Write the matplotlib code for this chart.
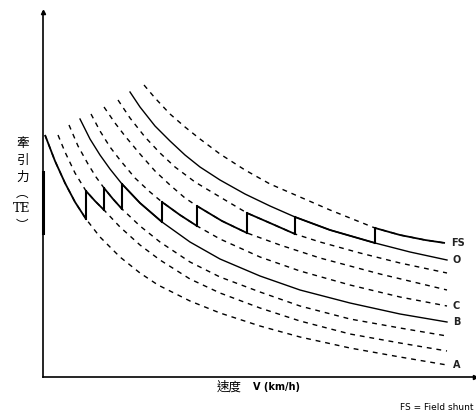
import matplotlib
matplotlib.use("Agg")
import matplotlib.pyplot as plt
import numpy as np

# traction effort curves (speed, tractive effort; arbitrary units)
curve_a_v = [2, 12, 22, 32, 43, 57, 77, 97, 115, 147, 177, 217, 257, 307, 357, 404]
curve_a_te = [242, 216, 194, 175, 158, 140, 120, 104, 92, 76, 64, 51, 40, 29, 20, 12]

curve_2_v = [15, 22, 32, 43, 52, 61, 77, 97, 117, 147, 177, 217, 257, 307, 357, 404]
curve_2_te = [242, 225, 204, 186, 176, 167, 150, 132, 117, 98, 84, 69, 56, 43, 34, 26]

curve_3_v = [26, 35, 45, 53, 61, 70, 79, 97, 117, 147, 177, 217, 257, 307, 357, 404]
curve_3_te = [252, 231, 213, 200, 189, 178, 168, 151, 135, 115, 100, 85, 71, 58, 49, 41]

curve_b_v = [37, 47, 57, 67, 79, 97, 119, 147, 177, 217, 257, 307, 357, 404]
curve_b_te = [258, 238, 222, 208, 193, 174, 155, 135, 118, 101, 87, 74, 63, 55]

curve_c_v = [48, 57, 67, 77, 92, 107, 119, 137, 154, 177, 217, 257, 307, 357, 404]
curve_c_te = [263, 246, 230, 217, 199, 185, 175, 162, 151, 138, 120, 106, 92, 80, 71]

curve_6_v = [61, 72, 82, 97, 112, 127, 142, 154, 179, 204, 237, 277, 337, 404]
curve_6_te = [270, 254, 241, 223, 206, 192, 179, 171, 156, 144, 132, 119, 103, 87]

curve_7_v = [75, 87, 102, 117, 132, 152, 177, 204, 227, 252, 277, 317, 357, 404]
curve_7_te = [277, 259, 240, 224, 210, 195, 180, 164, 154, 143, 135, 124, 114, 104]

curve_o_v = [87, 97, 112, 127, 142, 157, 177, 202, 227, 252, 287, 332, 367, 404]
curve_o_te = [285, 270, 251, 236, 222, 210, 197, 183, 171, 160, 147, 134, 125, 117]

curve_fs_v = [101, 112, 127, 142, 157, 177, 202, 227, 257, 287, 312, 332, 357, 382, 402]
curve_fs_te = [292, 279, 263, 250, 238, 223, 207, 193, 180, 167, 157, 149, 142, 137, 134]

# speeds where the notch steps up to the next curve
notch_speeds = [43, 61, 79, 119, 154, 204, 252, 332]

end_labels = ["A", "", "", "B", "C", "", "", "O", "FS"]
full_solid = [False, False, False, True, False, False, False, True, False]

curves = [
    (curve_a_v, curve_a_te), (curve_2_v, curve_2_te), (curve_3_v, curve_3_te),
    (curve_b_v, curve_b_te), (curve_c_v, curve_c_te), (curve_6_v, curve_6_te),
    (curve_7_v, curve_7_te), (curve_o_v, curve_o_te), (curve_fs_v, curve_fs_te),
]

fig = plt.figure(figsize=(4.77, 4.18), dpi=100)
ax = fig.add_axes([43 / 477, 41 / 418, 432 / 477, 365 / 418])
ax.set_xlim(0, 432)
ax.set_ylim(0, 365)

dash = (0, (3.5, 3.5))
for i, (v, te) in enumerate(curves):
    ls = "-" if full_solid[i] else dash
    ax.plot(v, te, color="black", lw=1.0, ls=ls)
    if end_labels[i]:
        ax.text(v[-1] + 6, te[-1], end_labels[i], fontsize=7, fontweight="bold",
                ha="left", va="center", color="#222222")

# solid notching envelope (sawtooth)
bounds = [-1] + notch_speeds + [1000]
for i, (v, te) in enumerate(curves):
    v = np.array(v)
    te = np.array(te)
    lo, hi = bounds[i], bounds[i + 1]
    m = (v >= lo) & (v <= hi)
    ax.plot(v[m], te[m], color="black", lw=1.3, solid_capstyle="butt")
    if i < len(notch_speeds):
        nv, nte = curves[i + 1]
        top = nte[nv.index(notch_speeds[i])]
        bot = te[list(v).index(notch_speeds[i])]
        ax.plot([notch_speeds[i], notch_speeds[i]], [bot, top], color="black", lw=1.5)

# axes look
for s in ["top", "right"]:
    ax.spines[s].set_visible(False)
for s in ["left", "bottom"]:
    ax.spines[s].set_linewidth(1.2)
ax.set_xticks([])
ax.set_yticks([])
ax.plot(1, 0, ">k", ms=3, transform=ax.transAxes, clip_on=False)
ax.plot(0, 1, "^k", ms=3, transform=ax.transAxes, clip_on=False)
ax.plot([0, 0], [144, 205], color="black", lw=2.2, clip_on=False)

cjk = ["Noto Sans CJK TC", "DejaVu Sans"]
for ch, yy in zip("牽引力", [143, 160, 177]):
    fig.text(23 / 477, 1 - yy / 418, ch, family=cjk, fontsize=9, ha="center", va="center")
fig.text(22 / 477, 1 - 193 / 418, "︵", family=cjk, fontsize=9, ha="center", va="center")
fig.text(22 / 477, 1 - 209 / 418, "TE", family="DejaVu Serif", fontsize=9, ha="center", va="center")
fig.text(22 / 477, 1 - 226 / 418, "︶", family=cjk, fontsize=9, ha="center", va="center")

fig.text(217 / 477, 1 - 387 / 418, "速度", family=cjk, fontsize=9, ha="left", va="center")
fig.text(253 / 477, 1 - 387 / 418, "V (km/h)", fontsize=7, fontweight="bold", ha="left", va="center")
fig.text(474 / 477, 1 - 408 / 418, "FS = Field shunt", fontsize=6.5,
         ha="right", va="center")

fig.savefig("out.png", dpi=100)
